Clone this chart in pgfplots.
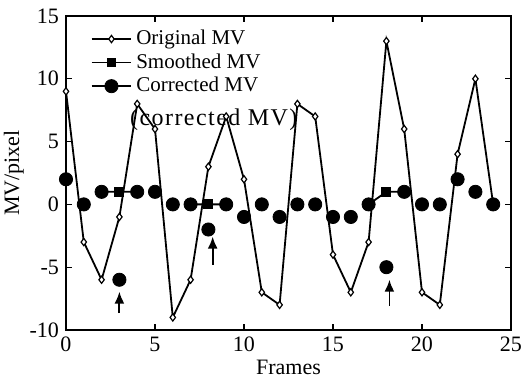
\documentclass[border=0pt]{standalone}
\usepackage{fontspec}
\setmainfont{Liberation Serif}
\usepackage{pgfplots}
\usetikzlibrary{arrows.meta}
\pgfplotsset{compat=1.18}
\begin{document}
\begin{tikzpicture}
\begin{axis}[
  name=ax,
  scale only axis,
  width=222.5pt, height=157pt,
  xmin=0, xmax=25, ymin=-10, ymax=15,
  xtick={0,5,...,25}, ytick={-10,-5,...,15},
  tick align=inside,
  major tick length=3pt,
  axis line style={line width=0.6pt},
  every tick/.style={black, line width=0.6pt},
  tick label style={font=\fontsize{11}{12}\selectfont},
  /pgf/number format/assume math mode=true,
  label style={font=\fontsize{11}{12}\selectfont},
  xlabel={Frames}, ylabel={MV/pixel},
  xlabel style={yshift=3pt},
  ylabel style={yshift=-4pt},
  legend style={draw=none, fill=none, at={(0.05,0.975)}, anchor=north west,
    font=\fontsize{10.5}{12}\selectfont, row sep=-1pt, inner sep=1pt},
  legend cell align=left,
  legend image code/.code={\draw[mark repeat=2,mark phase=2] plot coordinates {(0cm,0cm) (0.35cm,0cm) (0.7cm,0cm)};},
  clip=false,
]
\node[font=\fontsize{12}{13}\selectfont\addfontfeature{LetterSpace=6}] at (axis cs:8.3,6.75) {(corrected MV)};
\addplot[black, line width=0.9pt, mark=diamond*, mark size=1.8pt, mark options={fill=white, line width=0.6pt}]
 coordinates {(0,9)(1,-3)(2,-6)(3,-1)(4,8)(5,6)(6,-9)(7,-6)(8,3)(9,7)(10,2)(11,-7)(12,-8)(13,8)(14,7)(15,-4)(16,-7)(17,-3)(18,13)(19,6)(20,-7)(21,-8)(22,4)(23,10)(24,0)};
\addlegendentry{Original MV}
\addplot[black, line width=0.9pt, mark=square*, mark size=2pt, unbounded coords=jump]
 coordinates {(2,1)(3,1)(4,1)(5,nan)(7,0)(8,0)(9,0)(10,nan)(17,0)(18,1)(19,1)};
\addlegendentry{Smoothed MV}
\addplot[black, only marks, mark=*, mark size=3.3pt,
  legend image code/.code={\draw[black, line width=0.9pt] (0cm,0cm)--(0.7cm,0cm); \fill[black] (0.35cm,0cm) circle (3.3pt);}]
 coordinates {(0,2)(1,0)(2,1)(3,-6)(4,1)(5,1)(6,0)(7,0)(8,-2)(9,0)(10,-1)(11,0)(12,-1)(13,0)(14,0)(15,-1)(16,-1)(17,0)(18,-5)(19,1)(20,0)(21,0)(22,2)(23,1)(24,0)};
\addlegendentry{Corrected MV}
\draw[-{Latex[length=6pt,width=5pt]}, line width=0.9pt] (axis cs:3,-8.65) -- (axis cs:3,-6.95);
\draw[-{Latex[length=6pt,width=5pt]}, line width=0.9pt] (axis cs:8.24,-4.8) -- (axis cs:8.24,-2.57);
\draw[-{Latex[length=6pt,width=5pt]}, line width=0.9pt] (axis cs:18.17,-8.07) -- (axis cs:18.17,-6.0);
\end{axis}
\pgfresetboundingbox
\path ([xshift=-33pt,yshift=-23.5pt]ax.south west) rectangle ([xshift=7.5pt,yshift=8pt]ax.north east);
\end{tikzpicture}
\end{document}
